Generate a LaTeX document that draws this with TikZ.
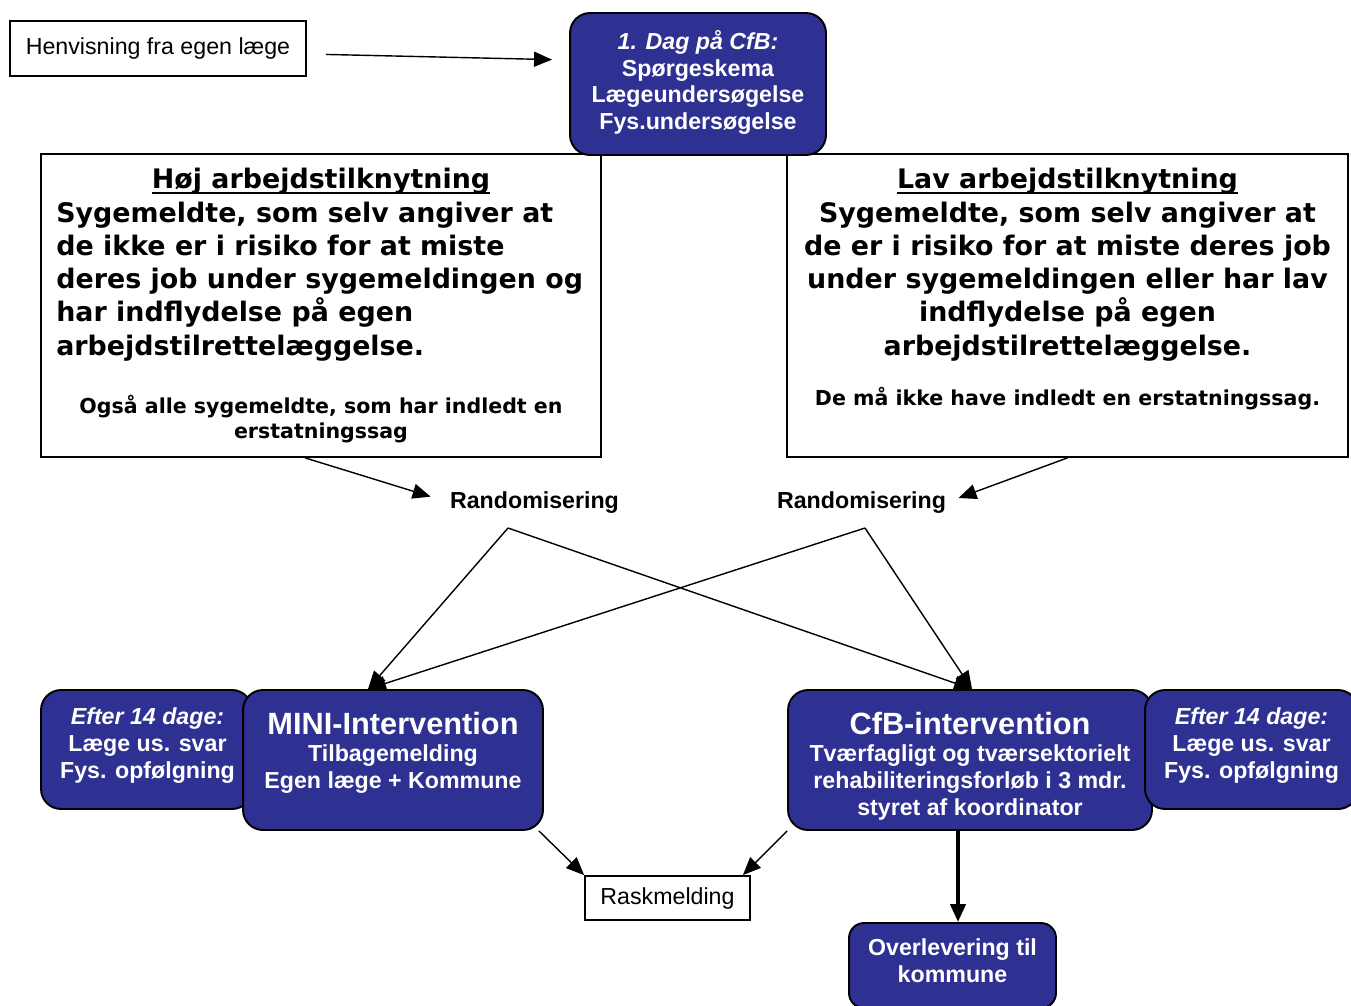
\documentclass[tikz,border=0pt]{standalone}
\usepackage{fontspec}
\setmainfont{Liberation Sans}
\newfontfamily\verdfont{DejaVu Sans}
\usetikzlibrary{arrows.meta, positioning}
\definecolor{navy}{RGB}{46,49,146}
\newcommand\ultext[1]{\setbox0\hbox{#1}\rlap{\rule[-3.4pt]{\wd0}{1.1pt}}\box0}

\begin{document}
\begin{tikzpicture}[
    x=0.02cm, y=-0.02cm,
    box/.style={draw, line width=1pt, fill=white, align=center, inner sep=0pt, font=\fontsize{13.2}{14.8}\selectfont},
    bigbox/.style={draw, line width=1pt, fill=white, minimum width=11.2cm, minimum height=6.06cm},
    navybox/.style={draw, line width=1.1pt, fill=navy, rounded corners=0.4cm, inner sep=0pt},
    whitetext/.style={text=white, align=center, inner sep=0pt, font=\bfseries\fontsize{13.2}{15.2}\selectfont},
    bigtext/.style={inner sep=0pt, font=\verdfont\bfseries\fontsize{15.3}{18.8}\selectfont},
    notetext/.style={inner sep=0pt, align=center, font=\verdfont\bfseries\fontsize{11.7}{14.2}\selectfont},
    randtext/.style={inner sep=0pt, font=\bfseries\fontsize{13.2}{14.8}\selectfont},
    arrow/.style={-{Triangle[length=0.36cm, width=0.3cm]}, line width=0.8pt}
]
\clip (0,0) rectangle (1351,1005);

% top row
\node[box, minimum width=5.92cm, minimum height=1.1cm] (henv) at (158,48.5) {Henvisning fra egen læge};
\node[bigbox] (hoj) at (321,305.5) {};
\node[bigbox, minimum width=11.22cm] (lav) at (1067.5,305.5) {};
\node[navybox, minimum width=5.12cm, minimum height=2.84cm] (dag) at (698,84) {};
\node[whitetext, anchor=base] (dagtxt) at (698,129.5) {{\itshape 1. Dag på CfB:}\\Spørgeskema\\Lægeundersøgelse\\Fys.undersøgelse};

% the two groups
\node[bigtext, anchor=base] (hojtitle) at (321,188) {\ultext{Høj arbejdstilknytning}};
\node[bigtext, align=left, anchor=base west] (hojbody) at (56,355) {Sygemeldte, som selv angiver at\\de ikke er i risiko for at miste\\deres job under sygemeldingen og\\har indflydelse på egen\\arbejdstilrettelæggelse.};
\node[notetext, anchor=base] (hojnote) at (321,438.5) {Også alle sygemeldte, som har indledt en\\erstatningssag};

\node[bigtext, anchor=base] (lavtitle) at (1067.5,188) {\ultext{Lav arbejdstilknytning}};
\node[bigtext, align=center, anchor=base] (lavbody) at (1067.5,355) {Sygemeldte, som selv angiver at\\de er i risiko for at miste deres job\\under sygemeldingen eller har lav\\indflydelse på egen\\arbejdstilrettelæggelse.};
\node[notetext, anchor=base] (lavnote) at (1067.5,405.5) {De må ikke have indledt en erstatningssag.};

\node[randtext] (rand1) at (534.5,502.5) {Randomisering};
\node[randtext] (rand2) at (861.5,502.5) {Randomisering};
\coordinate (r1) at (508,528);
\coordinate (r2) at (865,528);

% interventions
\node[navybox, minimum width=4.22cm, minimum height=2.38cm] (efterL) at (146.5,749.5) {};
\node[whitetext, anchor=base] (efterLtxt) at (147.5,778) {{\itshape Efter 14 dage:}\\Læge us. svar\\Fys. opfølgning};
\node[navybox, minimum width=6cm, minimum height=2.8cm] (mini) at (393,760) {};
\node[whitetext, anchor=base] (minitxt) at (393,788) {{\fontsize{17.5}{20}\selectfont MINI-Intervention}\\Tilbagemelding\\Egen læge + Kommune};
\node[navybox, minimum width=7.28cm, minimum height=2.8cm] (cfb) at (970,760) {};
\node[whitetext, anchor=base] (cfbtxt) at (970,815) {{\fontsize{17.5}{20}\selectfont CfB-intervention}\\Tværfagligt og tværsektorielt\\rehabiliteringsforløb i 3 mdr.\\styret af koordinator};
\node[navybox, minimum width=4.26cm, minimum height=2.38cm] (efterR) at (1251.5,749.5) {};
\node[whitetext, anchor=base] (efterRtxt) at (1251.5,778) {{\itshape Efter 14 dage:}\\Læge us. svar\\Fys. opfølgning};

\node[box, minimum width=3.3cm, minimum height=0.88cm] (rask) at (667.5,898) {Raskmelding};
\node[navybox, rounded corners=0.3cm, minimum width=4.14cm, minimum height=1.7cm] (overl) at (952.5,965.5) {};
\node[whitetext, anchor=base] (overltxt) at (952.5,982) {Overlevering til\\kommune};

% connectors
\draw[arrow, shorten <=0.38cm, shorten >=0.34cm] ([yshift=-0.11cm]henv.east) -- ([yshift=0.48cm]dag.west);
\draw[arrow, shorten >=0.4cm] ([xshift=-0.32cm]hoj.south) -- (rand1.west);
\draw[arrow, shorten >=0.26cm] (lav.south) -- (rand2.east);
\draw[arrow] (r1) -- ([xshift=-0.5cm]mini.north);
\draw[arrow] (r1) -- ([xshift=0.04cm]cfb.north);
\draw[arrow] (r2) -- ([xshift=-0.5cm]mini.north);
\draw[arrow] (r2) -- ([xshift=0.04cm]cfb.north);
\draw[arrow] ([xshift=-0.1cm]mini.south east) -- (rask.north west);
\draw[arrow] (cfb.south west) -- ([xshift=-0.16cm]rask.north east);
\draw[arrow, line width=2.3pt] ([xshift=-0.24cm]cfb.south) -- ([xshift=-0.24cm]cfb.south |- overl.north);

\end{tikzpicture}
\end{document}
